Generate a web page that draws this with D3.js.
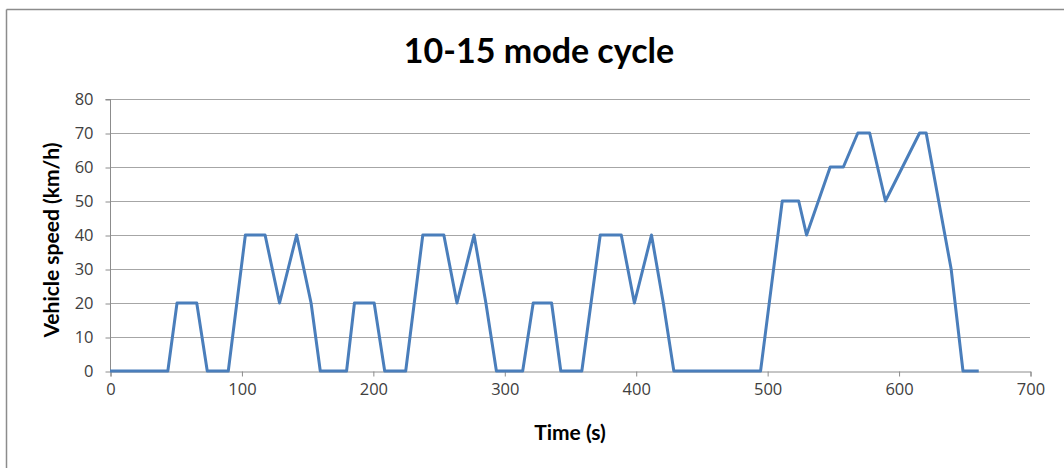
<!DOCTYPE html>
<html>
<head>
<meta charset="utf-8">
<script src="https://cdn.jsdelivr.net/npm/d3@7"></script>
<style>
  html, body { margin: 0; padding: 0; background: #fff; }
  svg { display: block; }
</style>
</head>
<body>
<svg id="chart" width="1064" height="468"></svg>
<script>
// ---- Data ----
const title = "10-15 mode cycle";
const xLabel = "Time (s)";
const yLabel = "Vehicle speed (km/h)";
const timeSec = [0, 44, 51, 66, 74, 90, 103, 118, 129, 142, 153, 160,
                 180, 186, 201, 209, 225, 238, 254, 264, 277, 286, 294,
                 314, 322, 336, 343, 359, 373, 389, 399, 412, 421, 429,
                 495, 511.5, 524, 530, 548, 558, 569, 578, 590, 616, 621, 640, 649, 661];
const speedKmh = [0, 0, 20, 20, 0, 0, 40, 40, 20, 40, 20, 0,
                  0, 20, 20, 0, 0, 40, 40, 20, 40, 20, 0,
                  0, 20, 20, 0, 0, 40, 40, 20, 40, 20, 0,
                  0, 50, 50, 40, 60, 60, 70, 70, 50, 70, 70, 30, 0, 0];
const xTicks = [0, 100, 200, 300, 400, 500, 600, 700];
const yTicks = [0, 10, 20, 30, 40, 50, 60, 70, 80];

const points = timeSec.map((t, i) => ({ t, v: speedKmh[i] }));

// ---- Layout ----
const svg = d3.select("#chart");
const plot = { left: 110, right: 1030, top: 99, bottom: 371 };

const x = d3.scaleLinear().domain([0, 700]).range([plot.left, plot.right]);
const y = d3.scaleLinear().domain([0, 80]).range([plot.bottom, plot.top]);

// chart frame (top and left borders visible)
svg.append("line").attr("x1", 6.5).attr("x2", 1064).attr("y1", 9.5).attr("y2", 9.5)
  .attr("stroke", "#8c8c8c").attr("stroke-width", 1.5);
svg.append("line").attr("x1", 6.5).attr("x2", 6.5).attr("y1", 9.5).attr("y2", 468)
  .attr("stroke", "#8c8c8c").attr("stroke-width", 1.5);

// gridlines
svg.append("g").selectAll("line").data(yTicks.filter(d => d > 0)).join("line")
  .attr("x1", plot.left).attr("x2", plot.right)
  .attr("y1", d => Math.round(y(d)) + 0.5).attr("y2", d => Math.round(y(d)) + 0.5)
  .attr("stroke", "#a6a6a6").attr("stroke-width", 1);

// axes
const xAxis = d3.axisBottom(x).tickValues(xTicks).tickSize(5).tickPadding(7).tickFormat(d3.format("d"));
const yAxis = d3.axisLeft(y).tickValues(yTicks).tickSize(5).tickPadding(12).tickFormat(d3.format("d"));

const gx = svg.append("g").attr("transform", `translate(0.5,${plot.bottom + 0.5})`).call(xAxis);
const gy = svg.append("g").attr("transform", `translate(${plot.left + 0.5},0.5)`).call(yAxis);

[gx, gy].forEach(g => {
  g.select(".domain").attr("stroke", "#8c8c8c");
  g.selectAll(".tick line").attr("stroke", "#8c8c8c");
  g.selectAll(".tick text")
    .attr("fill", "#404040")
    .style("font-family", "'Open Sans', 'DejaVu Sans', sans-serif")
    .style("font-size", "16.5px");
});
gy.select(".domain").attr("d", `M-5,${plot.top}H0V${plot.bottom}`);

// line
const line = d3.line().x(d => x(d.t)).y(d => y(d.v));
svg.append("path").datum(points)
  .attr("d", line)
  .attr("fill", "none")
  .attr("stroke", "#4a7ebb")
  .attr("stroke-width", 3)
  .attr("stroke-linejoin", "round");

// title
svg.append("text")
  .attr("x", 539).attr("y", 63)
  .attr("text-anchor", "middle")
  .style("font-family", "Lato, 'Open Sans', sans-serif")
  .style("font-weight", "bold")
  .style("font-size", "34px")
  .attr("fill", "#000")
  .text(title);

// axis titles
svg.append("text")
  .attr("x", 570).attr("y", 440)
  .attr("text-anchor", "middle")
  .style("font-family", "Lato, 'Open Sans', sans-serif")
  .style("font-weight", "bold")
  .style("font-size", "21px")
  .attr("fill", "#000")
  .text(xLabel);

svg.append("text")
  .attr("transform", "translate(59,240) rotate(-90)")
  .attr("text-anchor", "middle")
  .style("font-family", "Lato, 'Open Sans', sans-serif")
  .style("font-weight", "bold")
  .style("font-size", "21px")
  .attr("fill", "#000")
  .text(yLabel);
</script>
</body>
</html>
